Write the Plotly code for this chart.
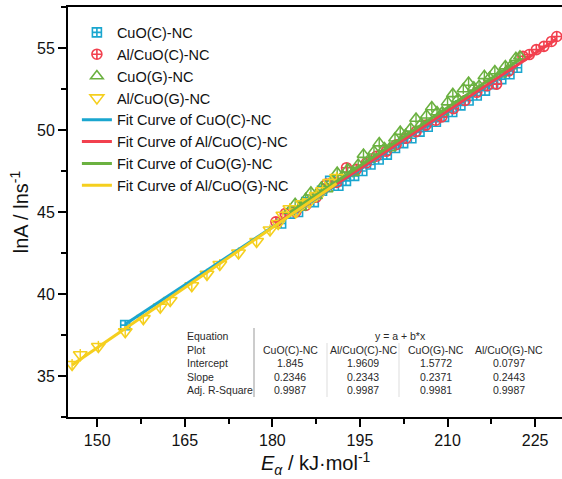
import plotly.graph_objects as go

# ---------------- data ----------------
series_names = ["CuO(C)-NC", "Al/CuO(C)-NC", "CuO(G)-NC", "Al/CuO(G)-NC"]

cuo_c_x = [154.8, 181.5, 183.0, 184.4, 185.8, 187.1, 188.5, 189.9, 191.3, 192.6, 194.0, 195.4,
           196.8, 198.2, 199.6, 201.0, 202.4, 203.8, 205.2, 206.6, 208.0, 209.4, 210.8, 212.2,
           213.6, 215.0, 216.4, 217.8, 219.2, 220.6, 221.9]
cuo_c_y = [38.1, 44.3, 44.9, 45.0, 45.6, 45.6, 46.3, 46.9, 46.6, 46.9, 47.2, 47.5,
           47.9, 48.2, 48.5, 48.9, 49.2, 49.5, 49.9, 50.2, 50.5, 50.8, 51.1, 51.5,
           51.8, 52.1, 52.4, 52.8, 53.1, 53.4, 53.8]

al_cuo_c_x = [180.6, 182.2, 184.0, 185.7, 187.5, 189.3, 191.0, 192.7, 194.4, 196.1, 197.8, 199.5,
              201.2, 202.9, 204.6, 206.3, 208.0, 209.0, 211.0, 213.0, 215.0, 216.8, 218.4, 220.5,
              222.9, 224.0, 225.2, 226.5, 227.8, 228.7]
al_cuo_c_y = [44.4, 44.9, 45.0, 45.4, 45.9, 46.7, 46.8, 47.7, 47.6, 48.0, 48.4, 48.7,
              49.1, 49.5, 49.9, 50.3, 50.6, 50.8, 51.3, 51.8, 52.3, 52.7, 52.8, 53.6,
              54.5, 54.6, 54.9, 55.1, 55.4, 55.7]

cuo_g_x = [183.0, 183.9, 184.8, 185.7, 186.6, 187.5, 188.4, 189.3, 190.2, 191.1, 192.0, 192.9,
           193.8, 194.7, 195.6, 196.5, 197.4, 198.3, 199.2, 200.1, 201.0, 201.9, 202.8, 203.7,
           204.6, 205.5, 206.4, 207.3, 208.2, 209.1, 210.0, 210.9, 211.8, 212.7, 213.6, 214.5,
           215.4, 216.3, 217.2, 218.1, 219.0, 219.9, 220.8, 221.7, 222.4]
cuo_g_y = [45.1, 45.5, 45.3, 45.8, 46.2, 46.0, 46.5, 46.4, 46.9, 47.4, 47.2, 47.6,
           47.4, 47.9, 48.5, 48.2, 48.7, 49.2, 48.9, 48.9, 49.5, 49.9, 49.7, 50.1,
           50.7, 50.4, 50.9, 51.4, 51.1, 51.1, 51.7, 52.2, 51.9, 52.5, 52.9, 52.6,
           52.7, 53.3, 53.2, 53.6, 53.4, 53.9, 53.9, 54.4, 54.5]

al_cuo_g_x = [145.7, 147.1, 150.2, 154.8, 157.9, 160.8, 162.5, 166.2, 168.8, 171.0, 174.2, 177.3,
              179.6, 181.0, 181.8, 183.0, 184.0, 185.2, 186.3, 187.5, 188.6, 189.8, 191.0]
al_cuo_g_y = [35.7, 36.3, 36.8, 37.7, 38.5, 39.2, 39.6, 40.5, 41.2, 41.8, 42.5, 43.2,
              43.9, 44.3, 44.8, 45.2, 45.0, 45.5, 45.6, 46.0, 46.3, 46.8, 47.1]

# fit table (y = a + b*x)
intercepts = [1.845, 1.9609, 1.5772, 0.0797]
slopes = [0.2346, 0.2343, 0.2371, 0.2443]
adj_r2 = [0.9987, 0.9987, 0.9981, 0.9987]
intercept_labels = ["1.845", "1.9609", "1.5772", "0.0797"]
slope_labels = ["0.2346", "0.2343", "0.2371", "0.2443"]
r2_labels = ["0.9987", "0.9987", "0.9981", "0.9987"]

x_ticks = [150, 165, 180, 195, 210, 225]
y_ticks = [35, 40, 45, 50, 55]

# ---------------- style ----------------
colors = ["#1aa6cf", "#f2404e", "#6bb140", "#f5cf1e"]
symbols = ["square-cross-open", "circle-cross-open", "triangle-up-open", "triangle-down-open"]
sizes = [9, 10, 11, 12]
FONT = "Arial, Liberation Sans, sans-serif"

xs = [cuo_c_x, al_cuo_c_x, cuo_g_x, al_cuo_g_x]
ys = [cuo_c_y, al_cuo_c_y, cuo_g_y, al_cuo_g_y]

fig = go.Figure()

for i in range(4):
    fig.add_trace(go.Scatter(
        x=xs[i], y=ys[i], mode="markers", name=series_names[i],
        marker=dict(symbol=symbols[i], size=sizes[i], color=colors[i],
                    line=dict(width=1.6, color=colors[i])),
    ))
    if i >= 2:
        # inner vertical stroke of triangle symbols
        fig.add_trace(go.Scatter(
            x=xs[i], y=ys[i], mode="markers", showlegend=False, hoverinfo="skip",
            marker=dict(symbol="line-ns-open", size=sizes[i] - 4, color=colors[i],
                        line=dict(width=1.4, color=colors[i])),
        ))

for i in range(4):
    x0, x1 = min(xs[i]), max(xs[i])
    fig.add_trace(go.Scatter(
        x=[x0, x1], y=[intercepts[i] + slopes[i] * x0, intercepts[i] + slopes[i] * x1],
        mode="lines", name="Fit Curve of " + series_names[i],
        line=dict(color=colors[i], width=3),
    ))

# ---------------- layout ----------------
W, H = 562, 479
L, R, T, B = 68, 0, 7, 62
pw, ph = W - L - R, H - T - B


def px(x):
    return (x - L) / pw


def py(y):
    return (H - B - y) / ph


ann = []
tfont = dict(family=FONT, size=10.5, color="#2a2a2a")
row_y = [336, 349.5, 363, 376.5, 390]
row_labels = ["Equation", "Plot", "Intercept", "Slope", "Adj. R-Square"]
for lab, yy in zip(row_labels, row_y):
    ann.append(dict(x=px(185), y=py(yy), xref="paper", yref="paper", text=lab, showarrow=False,
                    xanchor="left", yanchor="middle", font=tfont))
ann.append(dict(x=px(400), y=py(row_y[0]), xref="paper", yref="paper", text="y = a + b*x",
                showarrow=False, xanchor="center", yanchor="middle", font=tfont))
col_x = [290, 363, 436, 509]
for j in range(4):
    for txt, yy in zip([series_names[j], intercept_labels[j], slope_labels[j], r2_labels[j]], row_y[1:]):
        ann.append(dict(x=px(col_x[j]), y=py(yy), xref="paper", yref="paper", text=txt,
                        showarrow=False, xanchor="center", yanchor="middle", font=tfont))

# x-axis title as annotation for exact placement
ann.append(dict(x=px(316), y=py(447), xref="paper", yref="paper",
                text="<i>E</i><sub><i>α</i></sub> / kJ·mol<sup>-1</sup>", showarrow=False,
                xanchor="center", yanchor="top", font=dict(family=FONT, size=20, color="#111")))

shapes = [
    dict(type="line", xref="paper", yref="paper", x0=px(254), x1=px(254), y0=py(328), y1=py(397),
         line=dict(color="#999", width=1)),
    dict(type="line", xref="paper", yref="paper", x0=px(327), x1=px(327), y0=py(343), y1=py(397),
         line=dict(color="#ddd", width=1)),
    dict(type="line", xref="paper", yref="paper", x0=px(399), x1=px(399), y0=py(343), y1=py(397),
         line=dict(color="#ddd", width=1)),
]

fig.update_layout(
    width=W, height=H,
    margin=dict(l=L, r=R, t=T, b=B),
    paper_bgcolor="white", plot_bgcolor="white",
    font=dict(family=FONT, color="black"),
    showlegend=True,
    legend=dict(x=0.018, y=0.977, xanchor="left", yanchor="top", bgcolor="rgba(0,0,0,0)",
                font=dict(family=FONT, size=14.5, color="#111"), tracegroupgap=0,
                itemwidth=30),
    annotations=ann,
    shapes=shapes,
)
fig.update_xaxes(
    range=[145, 229.6], tickvals=x_ticks, showgrid=False, zeroline=False,
    showline=True, linecolor="black", linewidth=2, mirror=True,
    ticks="outside", ticklen=8, tickwidth=1.5, tickcolor="black",
    tickfont=dict(family=FONT, size=16, color="#111"),
    minor=dict(ticks="outside", ticklen=5, tickwidth=1.5, tickcolor="black", dtick=7.5, tick0=150),
)
fig.update_yaxes(
    range=[32.5, 57.5], tickvals=y_ticks, showgrid=False, zeroline=False,
    showline=True, linecolor="black", linewidth=2, mirror=False,
    ticks="outside", ticklen=8, tickwidth=1.5, tickcolor="black",
    tickfont=dict(family=FONT, size=16, color="#111"),
    minor=dict(ticks="outside", ticklen=5, tickwidth=1.5, tickcolor="black", dtick=2.5, tick0=35),
    title=dict(text="lnA / lns<sup>-1</sup>", font=dict(family=FONT, size=20, color="#111"), standoff=3),
)

fig.write_html("out.html")
